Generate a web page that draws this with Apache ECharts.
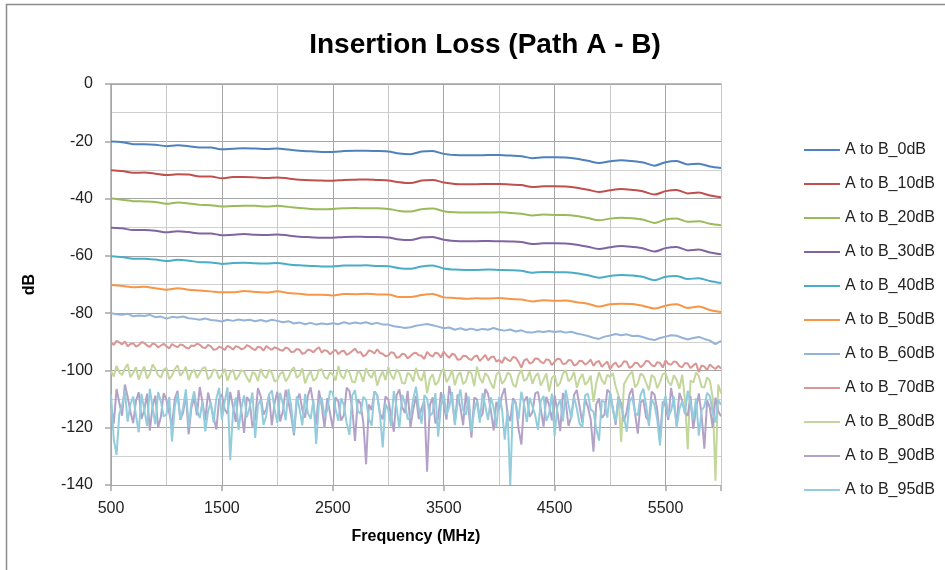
<!DOCTYPE html>
<html>
<head>
<meta charset="utf-8">
<script src="https://cdn.jsdelivr.net/npm/echarts@6/dist/echarts.min.js"></script>
<style>html,body{margin:0;padding:0;background:#fff;}#c{width:945px;height:570px;}</style>
</head>
<body>
<div id="c"></div>
<script>
var seriesNames = ['A to B_0dB','A to B_10dB','A to B_20dB','A to B_30dB','A to B_40dB','A to B_50dB','A to B_60dB','A to B_70dB','A to B_80dB','A to B_90dB','A to B_95dB'];
var xTickLabels = [500,1500,2500,3500,4500,5500];
var yTickLabels = [0,-20,-40,-60,-80,-100,-120,-140];

var freq100 = [500,600,700,800,900,1000,1100,1200,1300,1400,1500,1600,1700,1800,1900,2000,2100,2200,2300,2400,2500,2600,2700,2800,2900,3000,3100,3200,3300,3400,3500,3600,3700,3800,3900,4000,4100,4200,4300,4400,4500,4600,4700,4800,4900,5000,5100,5200,5300,5400,5500,5600,5700,5800,5900,6000];
var freq50 = [500,550,600,650,700,750,800,850,900,950,1000,1050,1100,1150,1200,1250,1300,1350,1400,1450,1500,1550,1600,1650,1700,1750,1800,1850,1900,1950,2000,2050,2100,2150,2200,2250,2300,2350,2400,2450,2500,2550,2600,2650,2700,2750,2800,2850,2900,2950,3000,3050,3100,3150,3200,3250,3300,3350,3400,3450,3500,3550,3600,3650,3700,3750,3800,3850,3900,3950,4000,4050,4100,4150,4200,4250,4300,4350,4400,4450,4500,4550,4600,4650,4700,4750,4800,4850,4900,4950,5000,5050,5100,5150,5200,5250,5300,5350,5400,5450,5500,5550,5600,5650,5700,5750,5800,5850,5900,5950,6000];
var freq25 = [500,525,550,575,600,625,650,675,700,725,750,775,800,825,850,875,900,925,950,975,
1000,1025,1050,1075,1100,1125,1150,1175,1200,1225,1250,1275,1300,1325,1350,1375,1400,1425,1450,1475,
1500,1525,1550,1575,1600,1625,1650,1675,1700,1725,1750,1775,1800,1825,1850,1875,1900,1925,1950,1975,
2000,2025,2050,2075,2100,2125,2150,2175,2200,2225,2250,2275,2300,2325,2350,2375,2400,2425,2450,2475,
2500,2525,2550,2575,2600,2625,2650,2675,2700,2725,2750,2775,2800,2825,2850,2875,2900,2925,2950,2975,
3000,3025,3050,3075,3100,3125,3150,3175,3200,3225,3250,3275,3300,3325,3350,3375,3400,3425,3450,3475,
3500,3525,3550,3575,3600,3625,3650,3675,3700,3725,3750,3775,3800,3825,3850,3875,3900,3925,3950,3975,
4000,4025,4050,4075,4100,4125,4150,4175,4200,4225,4250,4275,4300,4325,4350,4375,4400,4425,4450,4475,
4500,4525,4550,4575,4600,4625,4650,4675,4700,4725,4750,4775,4800,4825,4850,4875,4900,4925,4950,4975,
5000,5025,5050,5075,5100,5125,5150,5175,5200,5225,5250,5275,5300,5325,5350,5375,5400,5425,5450,5475,
5500,5525,5550,5575,5600,5625,5650,5675,5700,5725,5750,5775,5800,5825,5850,5875,5900,5925,5950,5975,
6000];

var s0dB = [-20.1,-20.3,-21.0,-21.0,-21.2,-21.7,-21.4,-21.7,-22.2,-22.2,-22.8,-22.6,-22.4,-22.5,-22.7,-22.5,-22.9,-23.3,-23.5,-23.7,-23.7,-23.4,-23.3,-23.3,-23.4,-23.6,-24.3,-24.5,-23.6,-23.4,-24.4,-24.8,-24.9,-24.9,-24.8,-24.8,-25.0,-25.2,-25.9,-25.6,-25.6,-25.7,-26.1,-26.8,-27.6,-27.0,-26.6,-26.9,-27.4,-28.5,-27.3,-26.9,-28.1,-27.8,-28.8,-29.3];
var s10dB = [-30.1,-30.4,-31.0,-30.9,-31.3,-31.8,-31.5,-31.6,-32.3,-32.3,-32.9,-32.5,-32.5,-32.6,-32.8,-32.6,-33.0,-33.4,-33.6,-33.7,-33.8,-33.5,-33.4,-33.3,-33.5,-33.7,-34.3,-34.6,-33.7,-33.5,-34.4,-34.9,-35.0,-35.0,-34.9,-34.9,-35.1,-35.3,-36.0,-35.7,-35.7,-35.8,-36.2,-36.9,-37.7,-37.1,-36.7,-37.0,-37.5,-38.6,-37.4,-37.0,-38.2,-37.9,-38.9,-39.5];
var s20dB = [-40.0,-40.4,-40.9,-41.0,-41.2,-41.8,-41.4,-41.7,-42.2,-42.3,-42.8,-42.6,-42.5,-42.5,-42.8,-42.5,-42.9,-43.3,-43.6,-43.7,-43.6,-43.4,-43.3,-43.4,-43.4,-43.6,-44.3,-44.5,-43.7,-43.5,-44.4,-44.8,-44.9,-44.9,-44.9,-44.8,-45.0,-45.3,-45.9,-45.6,-45.7,-45.7,-46.1,-46.8,-47.6,-47.0,-46.7,-46.9,-47.4,-48.5,-47.3,-47.0,-48.1,-47.9,-48.8,-49.3];
var s30dB = [-50.2,-50.4,-51.0,-51.0,-51.2,-51.8,-51.4,-51.7,-52.2,-52.2,-52.8,-52.6,-52.4,-52.6,-52.7,-52.5,-52.9,-53.3,-53.5,-53.7,-53.7,-53.4,-53.3,-53.4,-53.4,-53.6,-54.3,-54.5,-53.6,-53.4,-54.4,-54.8,-54.9,-54.9,-54.8,-54.9,-55.0,-55.2,-55.9,-55.6,-55.6,-55.7,-56.1,-56.8,-57.6,-57.0,-56.6,-56.9,-57.4,-58.5,-57.3,-56.9,-58.1,-57.8,-58.8,-59.4];
var s40dB = [-60.1,-60.4,-61.0,-61.0,-61.3,-61.8,-61.4,-61.7,-62.2,-62.3,-62.8,-62.5,-62.4,-62.6,-62.7,-62.5,-63.0,-63.3,-63.5,-63.7,-63.7,-63.4,-63.4,-63.3,-63.5,-63.6,-64.3,-64.5,-63.7,-63.4,-64.4,-64.8,-64.9,-64.9,-64.8,-64.9,-65.0,-65.2,-65.9,-65.6,-65.7,-65.7,-66.1,-66.8,-67.6,-67.0,-66.7,-66.9,-67.4,-68.5,-67.3,-67.0,-68.1,-67.8,-68.8,-69.5];
var s50dB = [-70.2,-70.5,-71.0,-70.8,-71.3,-71.8,-71.3,-71.8,-72.1,-72.4,-72.7,-72.7,-72.3,-72.6,-72.8,-72.4,-73.0,-73.2,-73.6,-73.6,-73.8,-73.3,-73.4,-73.2,-73.5,-73.5,-74.4,-74.4,-73.7,-73.3,-74.5,-74.7,-75.0,-74.8,-74.9,-74.7,-75.1,-75.2,-75.9,-75.5,-75.7,-75.6,-76.2,-76.7,-77.7,-76.9,-76.7,-76.8,-77.5,-78.4,-77.4,-76.9,-78.2,-77.7,-78.9,-79.6];
var s60dB = [-80.0,-80.4,-80.6,-80.2,-81.1,-80.8,-81.0,-80.6,-81.4,-81.2,
-81.9,-81.3,-81.5,-81.2,-81.8,-82.0,-82.3,-81.9,-82.4,-82.6,
-82.9,-82.3,-82.7,-82.2,-82.6,-82.3,-82.8,-82.4,-82.9,-82.3,
-82.7,-83.2,-82.8,-83.6,-83.3,-83.9,-83.4,-84.0,-83.6,-83.9,
-83.5,-83.9,-83.2,-83.7,-83.3,-83.6,-83.2,-83.8,-83.4,-84.0,
-84.0,-84.6,-84.8,-85.2,-84.9,-84.4,-84.1,-83.8,-84.2,-84.7,
-85.3,-85.0,-85.8,-85.3,-85.9,-85.4,-86.0,-85.5,-85.8,-85.2,
-85.8,-86.1,-85.7,-86.4,-86.0,-86.7,-86.8,-86.3,-86.6,-86.2,
-86.6,-86.3,-86.8,-86.5,-87.1,-87.5,-88.0,-88.6,-89.0,-88.2,
-87.8,-87.3,-87.7,-87.4,-88.0,-87.9,-88.4,-89.0,-89.4,-88.7,
-88.2,-87.7,-87.9,-88.6,-89.2,-88.7,-88.3,-89.0,-89.6,-90.8,
-89.7];
var s70dB = [-90.3,-91.1,-89.7,-90.2,-90.9,-89.9,-91.6,-90.8,-90.5,-91.7,-91.2,-90.1,-90.4,-91.3,-91.8,-90.6,-90.9,-92.0,-91.3,-90.7,
-91.6,-92.3,-90.8,-91.4,-91.9,-90.9,-91.2,-92.0,-92.4,-91.3,-91.5,-90.7,-91.0,-91.9,-92.2,-91.1,-91.6,-92.8,-92.6,-91.7,
-92.1,-92.9,-91.4,-91.9,-92.7,-91.5,-91.8,-92.6,-92.3,-91.2,-91.6,-92.4,-92.9,-91.7,-92.0,-93.1,-91.5,-92.2,-92.8,-91.9,
-92.3,-92.9,-93.1,-92.0,-92.4,-93.6,-93.5,-92.5,-92.8,-94.2,-93.9,-92.7,-93.0,-93.7,-92.6,-91.9,-93.8,-92.9,-93.2,-94.4,
-93.5,-92.8,-94.3,-93.4,-93.1,-94.6,-94.0,-93.2,-92.4,-93.8,-93.6,-95.1,-94.5,-93.0,-93.3,-94.1,-92.6,-93.9,-94.2,-95.0,
-94.8,-93.6,-93.9,-95.6,-95.3,-94.2,-94.4,-95.8,-95.0,-94.1,-93.8,-94.7,-94.9,-96.0,-93.5,-94.6,-95.2,-93.8,-94.1,-95.5,
-93.4,-94.7,-95.6,-94.2,-94.5,-96.3,-96.1,-94.9,-95.0,-95.9,-96.4,-95.2,-94.8,-96.7,-95.7,-94.6,-96.5,-95.4,-95.1,-96.9,
-96.3,-97.4,-95.4,-96.2,-96.8,-95.3,-95.6,-97.1,-99.0,-96.5,-96.0,-97.6,-97.2,-95.8,-95.9,-97.0,-97.5,-96.1,-96.4,-98.1,
-97.0,-95.9,-96.1,-97.8,-97.6,-96.4,-96.5,-98.3,-97.9,-96.6,-96.8,-98.0,-97.3,-96.2,-98.4,-97.1,-96.7,-98.7,-97.8,-96.9,
-99.6,-98.0,-97.2,-98.8,-98.3,-96.8,-97.0,-99.1,-98.6,-97.3,-97.5,-98.9,-98.1,-96.6,-96.9,-98.2,-98.6,-97.1,-97.4,-99.0,
-96.5,-97.7,-98.0,-96.9,-97.1,-98.5,-98.9,-97.4,-97.6,-99.2,-98.3,-97.5,-100.6,-98.2,-98.7,-99.8,-97.9,-98.8,-99.5,-98.4,
-99.3];
var s80dB = [-100.2,-102.1,-98.4,-100.7,-101.6,-99.3,-97.8,-102.4,-100.9,-98.9,-103.2,-100.5,-98.6,-102.8,-101.3,-97.9,-99.4,-101.7,-102.5,-99.8,
-99.1,-103.0,-101.8,-99.5,-98.2,-101.9,-100.6,-98.7,-103.4,-100.8,-99.7,-102.6,-101.0,-99.2,-98.9,-103.1,-102.2,-99.6,-100.1,-102.9,
-101.5,-99.4,-103.6,-100.9,-99.8,-103.3,-102.0,-99.9,-100.4,-102.5,-104.1,-100.6,-101.2,-103.7,-99.5,-101.8,-102.7,-99.7,-100.8,-103.9,
-103.3,-101.2,-100.5,-103.8,-102.4,-100.0,-98.9,-102.6,-101.7,-99.3,-104.5,-101.9,-100.3,-103.6,-102.8,-99.8,-99.6,-102.2,-103.0,-100.6,
-101.4,-103.5,-98.5,-101.9,-102.9,-99.7,-100.7,-103.9,-104.2,-100.2,-101.1,-104.0,-99.2,-101.5,-102.6,-99.9,-105.3,-102.3,-100.4,-103.4,
-98.8,-101.7,-103.1,-99.6,-100.9,-104.3,-104.6,-100.8,-101.6,-103.9,-99.1,-102.4,-103.7,-100.2,-108.0,-102.9,-101.3,-105.1,-104.0,-100.7,
-99.4,-104.1,-102.5,-99.8,-105.2,-101.9,-100.6,-104.8,-103.8,-100.3,-101.0,-105.5,-98.7,-102.6,-104.4,-100.9,-102.1,-104.6,-106.3,-101.4,
-100.5,-104.7,-103.5,-100.8,-101.4,-104.9,-105.8,-101.6,-99.8,-103.7,-102.9,-100.4,-104.7,-102.1,-100.9,-105.3,-103.2,-101.0,-107.4,-102.6,
-101.7,-105.6,-104.3,-101.1,-99.9,-103.8,-102.8,-100.5,-106.1,-103.0,-101.2,-105.0,-103.9,-101.8,-111.0,-104.5,-100.6,-103.3,-104.8,-101.5,
-102.3,-100.9,-105.5,-108.7,-125.0,-104.8,-103.0,-101.4,-100.4,-105.9,-104.6,-101.1,-101.8,-104.3,-106.9,-101.6,-102.5,-106.2,-104.1,-101.3,
-100.9,-104.0,-105.2,-101.7,-103.3,-106.4,-101.5,-110.2,-127.5,-103.5,-104.2,-100.8,-102.0,-105.7,-106.0,-102.4,-103.6,-109.5,-138.5,-104.9,
-108.0];
var s90dB = [-112.0,-118.6,-106.5,-111.3,-115.8,-104.9,-109.2,-114.4,-118.4,-110.7,-107.6,-116.9,-113.9,-108.1,-121.0,-112.5,-108.8,-119.9,-116.2,-107.9,
-110.4,-114.8,-119.5,-109.9,-107.1,-117.3,-114.7,-108.4,-122.3,-113.0,-109.6,-115.7,-105.8,-111.1,-117.4,-107.7,-111.9,-116.3,-120.6,-110.0,
-108.3,-113.6,-115.1,-107.5,-112.6,-118.0,-106.9,-114.1,-121.8,-109.3,-110.7,-119.6,-116.9,-106.2,-109.0,-115.5,-113.5,-108.6,-119.2,-111.4,
-107.4,-117.8,-114.2,-106.8,-111.0,-116.0,-122.7,-110.5,-108.1,-113.7,-116.5,-108.9,-105.9,-112.0,-118.9,-107.0,-112.3,-120.1,-109.7,-114.9,
-120.3,-109.4,-110.8,-117.5,-115.6,-106.0,-107.2,-113.3,-124.6,-110.1,-111.5,-118.2,-132.7,-111.9,-113.8,-107.3,-108.5,-115.0,-117.1,-109.1,
-110.2,-115.9,-121.4,-108.7,-106.6,-112.7,-114.9,-107.1,-119.8,-113.6,-108.9,-117.0,-113.2,-110.6,-135.4,-112.2,-109.4,-118.5,-116.8,-107.6,
-111.7,-117.2,-105.4,-110.3,-118.1,-108.4,-112.9,-119.1,-107.8,-114.0,-123.5,-109.5,-110.1,-116.7,-115.3,-106.5,-108.2,-113.9,-120.9,-111.0,
-113.6,-108.8,-106.2,-115.2,-117.7,-109.7,-111.3,-120.5,-125.9,-110.8,-109.1,-116.2,-114.6,-108.0,-107.5,-113.4,-119.6,-109.2,-112.1,-117.4,
-108.7,-114.5,-121.2,-107.9,-110.9,-119.4,-116.1,-108.5,-106.8,-112.6,-118.3,-110.0,-112.7,-117.1,-128.4,-111.8,-109.8,-116.6,-115.4,-106.7,
-107.9,-113.1,-119.0,-109.1,-111.6,-117.9,-114.3,-108.3,-106.3,-115.0,-122.1,-111.2,-110.3,-116.4,-117.6,-107.4,-108.4,-113.8,-124.0,-110.9,
-112.4,-117.3,-106.1,-111.7,-118.7,-107.8,-110.6,-114.7,-115.9,-109.0,-120.4,-113.5,-108.0,-115.6,-127.3,-110.4,-113.1,-120.0,-109.5,-114.2,
-116.0];
var s95dB = [-108.5,-124.0,-129.5,-115.2,-112.3,-107.0,-117.9,-111.8,-109.1,-115.6,-121.6,-108.2,-113.7,-119.4,-106.4,-112.9,-118.8,-107.5,-110.9,-116.1,
-115.4,-109.3,-124.8,-112.7,-108.0,-117.0,-113.1,-106.6,-119.7,-111.5,-107.3,-113.8,-116.6,-110.7,-121.3,-114.3,-111.2,-118.1,-109.8,-106.1,
-117.2,-111.0,-105.9,-131.3,-114.5,-109.4,-120.8,-113.2,-108.7,-116.3,-112.9,-107.7,-123.6,-112.1,-110.1,-119.0,-115.8,-108.4,-107.0,-113.5,
-118.3,-107.8,-111.7,-117.4,-106.5,-112.6,-121.9,-109.0,-113.4,-119.2,-108.2,-114.9,-116.9,-110.3,-125.7,-111.4,-109.5,-116.0,-114.0,-107.1,
-107.8,-113.6,-117.6,-109.7,-112.2,-118.4,-122.5,-108.8,-106.9,-114.2,-115.1,-109.2,-110.4,-116.8,-119.3,-107.4,-108.6,-115.3,-126.9,-111.6,
-113.9,-119.5,-107.2,-112.8,-120.2,-108.5,-111.4,-117.1,-116.4,-110.0,-105.7,-113.0,-118.6,-108.6,-109.9,-115.9,-114.8,-107.9,-123.1,-112.4,
-108.3,-115.4,-112.7,-107.6,-119.1,-111.3,-106.6,-113.9,-115.5,-109.1,-121.3,-114.0,-110.5,-118.2,-107.9,-112.5,-117.3,-109.4,-113.0,-119.8,
-109.2,-113.3,-124.2,-114.1,-140.0,-110.5,-111.8,-116.9,-107.4,-112.0,-118.0,-109.6,-112.5,-115.7,-120.7,-110.8,-108.9,-117.6,-115.2,-108.1,
-122.9,-112.6,-110.2,-117.8,-106.8,-111.9,-116.7,-109.3,-113.3,-118.6,-119.9,-108.7,-108.1,-113.6,-114.4,-120.3,-124.5,-110.6,-111.0,-116.5,
-107.6,-113.7,-117.9,-109.5,-112.8,-116.3,-121.4,-110.9,-109.3,-114.8,-115.7,-108.5,-106.4,-112.2,-119.4,-110.1,-111.9,-117.2,-126.2,-112.7,
-108.8,-116.0,-114.1,-109.1,-120.0,-113.4,-110.7,-115.2,-107.1,-111.7,-117.0,-109.8,-122.8,-113.9,-112.6,-107.8,-109.0,-114.6,-118.2,-110.3,
-112.0];

var seriesValues = [s0dB,s10dB,s20dB,s30dB,s40dB,s50dB,s60dB,s70dB,s80dB,s90dB,s95dB];
var seriesX = [freq100,freq100,freq100,freq100,freq100,freq100,freq50,freq25,freq25,freq25,freq25];
var colors = ['#4F81BD','#C0504D','#9BBB59','#8064A2','#4BACC6','#F79646','#95B3D7','#D99694','#C3D69B','#B3A2C7','#93CDDD'];

function pairs(xs, ys){ var out=[]; for(var i=0;i<ys.length;i++){ out.push([xs[i], ys[i]]); } return out; }

var series = seriesNames.map(function(name, i){
  return {
    name: name,
    type: 'line',
    xAxisIndex: 0,
    data: pairs(seriesX[i], seriesValues[i]),
    showSymbol: false,
    symbol: 'none',
    smooth: i < 6 ? 0.3 : false,
    lineStyle: { width: 2, color: colors[i] },
    itemStyle: { color: colors[i] },
    animation: false
  };
});

var chart = echarts.init(document.getElementById('c'), null, {renderer:'canvas'});
var FONT = 'Liberation Sans';
chart.setOption({
  backgroundColor: '#ffffff',
  animation: false,
  title: {
    text: 'Insertion Loss (Path A - B)',
    left: 480, top: 26, textAlign: 'center',
    textStyle: { fontFamily: FONT, fontSize: 28, fontWeight: 'bold', color: '#000' }
  },
  graphic: [{
    type: 'rect', left: 4, top: 2, z: 100,
    shape: { width: 1000, height: 1000 },
    style: { fill: 'none', stroke: '#8c8c8c', lineWidth: 1.5 }
  }],
  legend: {
    orient: 'vertical', left: 799, top: 137,
    itemWidth: 36, itemHeight: 2, itemGap: 18, icon: 'rect',
    textStyle: { fontFamily: FONT, fontSize: 16, color: '#222' },
    data: seriesNames
  },
  grid: { left: 111, right: 224, top: 84, bottom: 85, containLabel: false },
  xAxis: [{
    type: 'value', min: 500, max: 6000, interval: 500,
    name: 'Frequency (MHz)', nameLocation: 'middle', nameGap: 44,
    nameTextStyle: { fontFamily: FONT, fontSize: 16, fontWeight: 'bold', color: '#000' },
    axisLine: { show: true, lineStyle: { color: '#A6A6A6', width: 1.5 } },
    axisTick: { show: false },
    axisLabel: {
      fontFamily: FONT, fontSize: 16, color: '#222', margin: 16,
      formatter: function(v){ return xTickLabels.indexOf(v) >= 0 ? String(v) : ''; }
    },
    splitLine: { show: true, lineStyle: { color: ['#A6A6A6','#C8C8C8'], width: 1 } }
  }, {
    type: 'value', min: 500, max: 6000, interval: 1000, position: 'bottom',
    axisLine: { show: false }, axisLabel: { show: false }, splitLine: { show: false },
    axisTick: { show: true, inside: false, length: 6, lineStyle: { color: '#A6A6A6', width: 1.5 } }
  }],
  yAxis: {
    type: 'value', min: -140, max: 0, interval: 20,
    name: 'dB', nameLocation: 'middle', nameGap: 73, nameRotate: 90,
    nameTextStyle: { fontFamily: FONT, fontSize: 16, fontWeight: 'bold', color: '#000' },
    axisLine: { show: true, lineStyle: { color: '#A6A6A6', width: 1.5 } },
    axisTick: { show: true, length: 6, lineStyle: { color: '#A6A6A6', width: 1.5 } },
    axisLabel: {
      fontFamily: FONT, fontSize: 16, color: '#222', margin: 18,
      formatter: function(v){ return yTickLabels.indexOf(v) >= 0 ? String(v) : ''; }
    },
    splitLine: { show: true, lineStyle: { color: '#A6A6A6', width: 1 } },
    minorTick: { show: false, splitNumber: 2 },
    minorSplitLine: { show: true, lineStyle: { color: '#D0D0D0', width: 1 } }
  },
  series: series
});
</script>
</body>
</html>
